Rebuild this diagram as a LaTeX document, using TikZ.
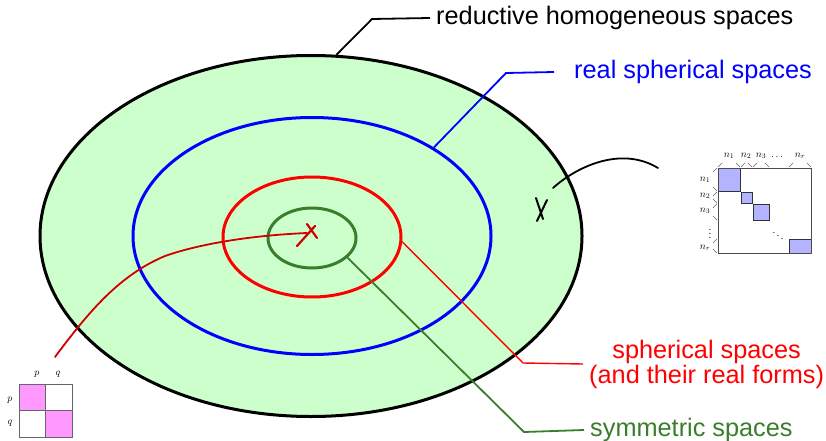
\documentclass[tikz,border=0pt]{standalone}
\usepackage{fontspec}
\setmainfont{Liberation Sans}
\usetikzlibrary{shapes.geometric}
\definecolor{paleGreen}{HTML}{CCFFCC}
\definecolor{symGreen}{HTML}{3A7D2C}
\definecolor{curveRed}{HTML}{D00000}
\definecolor{blockBlue}{HTML}{B3B3FF}
\definecolor{blockPink}{HTML}{FF99FF}
\tikzset{
  ring/.style={ellipse,draw,line width=3pt,inner sep=0pt},
  leader/.style={line width=1.8pt},
  bigtext/.style={font=\fontsize{25.3}{25}\selectfont,inner sep=3pt,inner xsep=6pt},
  mat/.style={font=\fontsize{10}{10}\selectfont,inner sep=0pt},
  tick/.style={line width=0.5pt,gray!80!black}
}
\begin{document}
\begin{tikzpicture}[x=1pt,y=-1pt]
\useasboundingbox (0,0) rectangle (826,441);
% nested families
\node[ring,fill=paleGreen,minimum width=542pt,minimum height=361pt] (outer) at (311,236) {};
\node[ring,draw=blue,minimum width=358pt,minimum height=237pt] (realsph) at (312,236) {};
\node[ring,draw=red,minimum width=178pt,minimum height=120pt] (sph) at (312,237) {};
\node[ring,draw=symGreen,minimum width=88pt,minimum height=60pt] (sym) at (312,238) {};
% labels
\node[bigtext,anchor=west] (rhs) at (430,18) {reductive homogeneous spaces};
\node[bigtext,anchor=west,text=blue] (rss) at (568,72) {real spherical spaces};
\node[bigtext,anchor=west,text=red,align=center] (ss) at (583,364) {spherical spaces\\(and their real forms)};
\node[bigtext,anchor=west,text=symGreen] (sys) at (584,430) {symmetric spaces};
\draw[leader] (outer.82) -- (372,19) -- (rhs.west);
\draw[leader,blue] (realsph.36) -- (506,73) -- ([xshift=-14pt]rss.west);
\draw[leader,red,line width=1.4pt] (sph.-3) -- (523,363) -- (ss.west);
\draw[leader,symGreen] (sym.-29) -- (524,432) -- (sys.west);
% pointers
\coordinate (redtip) at (307,233);
\coordinate (redtail) at (55,357);
\draw[curveRed,line width=1.8pt,line cap=round] (redtail) .. controls (90,310) and (120,275) .. (165,256) .. controls (205,242) and (260,235) .. (redtip);
\draw[curveRed,line width=2.2pt,line cap=round] (297,246) -- (315,226) (307,224) -- (317,238);
\coordinate (blktip) at (553,188);
\coordinate (blktail) at (658,168);
\draw[line width=1.8pt,line cap=round] (blktip) .. controls (575,168) and (620,145) .. (blktail);
\draw[line width=2pt,line cap=round] (536,198) -- (543,219) (547,200) -- (537,221);
% block matrix, right
\fill[blockBlue] (718,168) rectangle (740,191) (741,192) rectangle (752,203)
  (753,204) rectangle (769,220) (789,239) rectangle (811,253);
\draw[line width=1pt,black!80] (718,168) rectangle (740,191) (741,192) rectangle (752,203)
  (753,204) rectangle (769,220) (789,239) rectangle (811,253);
\draw[line width=1pt,black!70] (718,168) rectangle (811,253);
\node[mat] at (778,233) {$\ddots$};
\foreach \a/\b in {718/740,741/752,753/769,789/811}{
  \draw[tick] (\a,167) -- (\a+4,163);
  \draw[tick] (\b-4,163) -- (\b,167);
}
\foreach \a/\b in {168/191,192/203,204/220,239/253}{
  \draw[tick] (717,\a) -- (713,\a+4);
  \draw[tick] (713,\b-4) -- (717,\b);
}
\node[mat] at (729,156) {$n_1$};
\node[mat] at (746,156) {$n_2$};
\node[mat] at (761,156) {$n_3$};
\node[mat] at (777,157) {$\dots$};
\node[mat] at (800,156) {$n_r$};
\node[mat] at (705,180) {$n_1$};
\node[mat] at (705,196) {$n_2$};
\node[mat] at (705,211) {$n_3$};
\node[mat] at (710,231) {$\vdots$};
\node[mat] at (705,248) {$n_r$};
% block matrix, left
\fill[blockPink] (19,384) rectangle (45.5,410.5) (45.5,410.5) rectangle (72,437);
\draw[line width=1pt,black!60] (19,384) rectangle (72,437) (45.5,384) -- (45.5,437) (19,410.5) -- (72,410.5);
\node[mat] at (37,374) {$p$};
\node[mat] at (58,374) {$q$};
\node[mat] at (10,400) {$p$};
\node[mat] at (10,423) {$q$};
\end{tikzpicture}
\end{document}
